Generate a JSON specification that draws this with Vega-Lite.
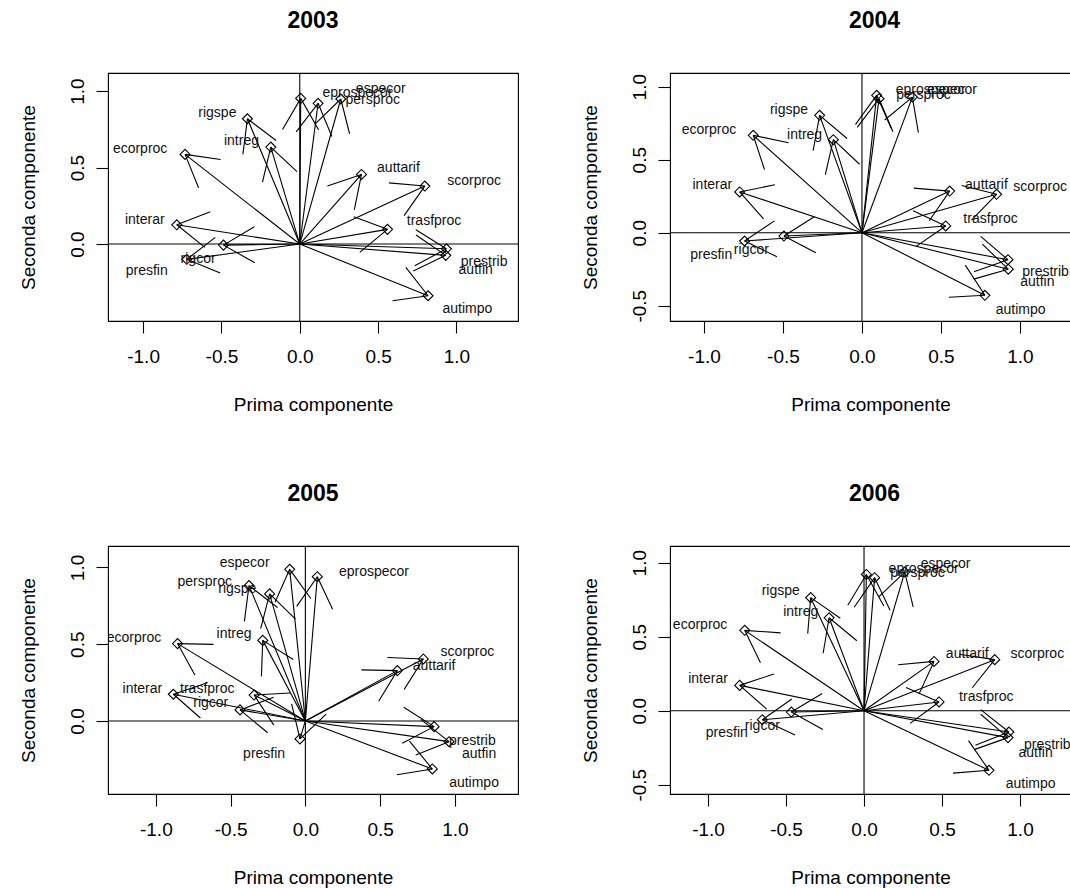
{
  "$schema": "https://vega.github.io/schema/vega-lite/v6.json",
  "padding": {"left": 18, "top": 9, "right": 0, "bottom": 0},
  "background": "white",
  "data": {"values": [
    {"year":2003,"v":"eprospecor","x":0.006,"y":0.952,"b1x":0.12,"b1y":0.747,"b2x":-0.11,"b2y":0.749,"lx":0.368,"ly":0.987},
    {"year":2003,"v":"persproc","x":0.117,"y":0.92,"b1x":0.205,"b1y":0.703,"b2x":-0.023,"b2y":0.733,"lx":0.466,"ly":0.943},
    {"year":2003,"v":"especor","x":0.262,"y":0.948,"b1x":0.318,"b1y":0.72,"b2x":0.097,"b2y":0.784,"lx":0.517,"ly":1.013},
    {"year":2003,"v":"rigspe","x":-0.334,"y":0.819,"b1x":-0.151,"b1y":0.677,"b2x":-0.363,"b2y":0.586,"lx":-0.526,"ly":0.856},
    {"year":2003,"v":"intreg","x":-0.185,"y":0.634,"b1x":-0.018,"b1y":0.473,"b2x":-0.238,"b2y":0.405,"lx":-0.372,"ly":0.673},
    {"year":2003,"v":"ecorproc","x":-0.732,"y":0.586,"b1x":-0.505,"b1y":0.553,"b2x":-0.646,"b2y":0.368,"lx":-1.019,"ly":0.623},
    {"year":2003,"v":"interar","x":-0.785,"y":0.126,"b1x":-0.571,"b1y":0.211,"b2x":-0.606,"b2y":-0.022,"lx":-0.989,"ly":0.159},
    {"year":2003,"v":"presfin","x":-0.721,"y":-0.1,"b1x":-0.539,"b1y":0.044,"b2x":-0.508,"b2y":-0.19,"lx":-0.977,"ly":-0.176},
    {"year":2003,"v":"rigcor","x":-0.487,"y":-0.007,"b1x":-0.29,"b1y":0.113,"b2x":-0.287,"b2y":-0.122,"lx":-0.649,"ly":-0.1},
    {"year":2003,"v":"auttarif","x":0.394,"y":0.455,"b1x":0.348,"b1y":0.224,"b2x":0.176,"b2y":0.38,"lx":0.63,"ly":0.499},
    {"year":2003,"v":"scorproc","x":0.798,"y":0.379,"b1x":0.666,"b1y":0.186,"b2x":0.569,"b2y":0.4,"lx":1.113,"ly":0.412},
    {"year":2003,"v":"trasfproc","x":0.56,"y":0.096,"b1x":0.383,"b1y":-0.054,"b2x":0.345,"b2y":0.178,"lx":0.857,"ly":0.15},
    {"year":2003,"v":"prestrib","x":0.936,"y":-0.031,"b1x":0.734,"b1y":-0.142,"b2x":0.741,"b2y":0.093,"lx":1.177,"ly":-0.118},
    {"year":2003,"v":"autfin","x":0.932,"y":-0.074,"b1x":0.725,"b1y":-0.176,"b2x":0.742,"b2y":0.059,"lx":1.123,"ly":-0.168},
    {"year":2003,"v":"autimpo","x":0.819,"y":-0.338,"b1x":0.592,"b1y":-0.371,"b2x":0.677,"b2y":-0.153,"lx":1.07,"ly":-0.423},

    {"year":2004,"v":"ecorproc","x":-0.688,"y":0.667,"b1x":-0.465,"b1y":0.616,"b2x":-0.617,"b2y":0.433,"lx":-0.968,"ly":0.701},
    {"year":2004,"v":"rigspe","x":-0.268,"y":0.804,"b1x":-0.094,"b1y":0.645,"b2x":-0.309,"b2y":0.562,"lx":-0.462,"ly":0.838},
    {"year":2004,"v":"intreg","x":-0.181,"y":0.637,"b1x":-0.015,"b1y":0.469,"b2x":-0.232,"b2y":0.397,"lx":-0.363,"ly":0.667},
    {"year":2004,"v":"interar","x":-0.774,"y":0.279,"b1x":-0.551,"b1y":0.328,"b2x":-0.623,"b2y":0.095,"lx":-0.947,"ly":0.324},
    {"year":2004,"v":"presfin","x":-0.743,"y":-0.057,"b1x":-0.554,"b1y":0.081,"b2x":-0.538,"b2y":-0.165,"lx":-0.954,"ly":-0.155},
    {"year":2004,"v":"rigcor","x":-0.494,"y":-0.023,"b1x":-0.302,"b1y":0.109,"b2x":-0.292,"b2y":-0.137,"lx":-0.7,"ly":-0.116},
    {"year":2004,"v":"eprospecor","x":0.093,"y":0.941,"b1x":0.185,"b1y":0.716,"b2x":-0.041,"b2y":0.742,"lx":0.435,"ly":0.975},
    {"year":2004,"v":"persproc","x":0.108,"y":0.918,"b1x":0.196,"b1y":0.691,"b2x":-0.03,"b2y":0.722,"lx":0.39,"ly":0.94},
    {"year":2004,"v":"especor","x":0.319,"y":0.929,"b1x":0.357,"b1y":0.686,"b2x":0.144,"b2y":0.772,"lx":0.57,"ly":0.975},
    {"year":2004,"v":"auttarif","x":0.555,"y":0.285,"b1x":0.426,"b1y":0.082,"b2x":0.328,"b2y":0.305,"lx":0.788,"ly":0.324},
    {"year":2004,"v":"scorproc","x":0.852,"y":0.263,"b1x":0.693,"b1y":0.086,"b2x":0.631,"b2y":0.323,"lx":1.128,"ly":0.313},
    {"year":2004,"v":"trasfproc","x":0.53,"y":0.046,"b1x":0.343,"b1y":-0.094,"b2x":0.324,"b2y":0.151,"lx":0.814,"ly":0.096},
    {"year":2004,"v":"prestrib","x":0.924,"y":-0.185,"b1x":0.709,"b1y":-0.267,"b2x":0.751,"b2y":-0.025,"lx":1.162,"ly":-0.269},
    {"year":2004,"v":"autfin","x":0.926,"y":-0.25,"b1x":0.707,"b1y":-0.318,"b2x":0.762,"b2y":-0.079,"lx":1.11,"ly":-0.338},
    {"year":2004,"v":"autimpo","x":0.778,"y":-0.429,"b1x":0.55,"b1y":-0.442,"b2x":0.654,"b2y":-0.222,"lx":1.004,"ly":-0.532},

    {"year":2005,"v":"especor","x":-0.105,"y":0.988,"b1x":0.036,"b1y":0.798,"b2x":-0.203,"b2y":0.774,"lx":-0.406,"ly":1.027},
    {"year":2005,"v":"eprospecor","x":0.08,"y":0.94,"b1x":0.182,"b1y":0.728,"b2x":-0.058,"b2y":0.747,"lx":0.459,"ly":0.973},
    {"year":2005,"v":"persproc","x":-0.377,"y":0.882,"b1x":-0.186,"b1y":0.739,"b2x":-0.408,"b2y":0.649,"lx":-0.673,"ly":0.908},
    {"year":2005,"v":"rigspe","x":-0.239,"y":0.828,"b1x":-0.066,"b1y":0.664,"b2x":-0.299,"b2y":0.601,"lx":-0.455,"ly":0.858},
    {"year":2005,"v":"intreg","x":-0.285,"y":0.525,"b1x":-0.081,"b1y":0.401,"b2x":-0.294,"b2y":0.29,"lx":-0.477,"ly":0.565},
    {"year":2005,"v":"ecorproc","x":-0.855,"y":0.504,"b1x":-0.614,"b1y":0.499,"b2x":-0.739,"b2y":0.299,"lx":-1.146,"ly":0.543},
    {"year":2005,"v":"interar","x":-0.883,"y":0.174,"b1x":-0.655,"b1y":0.249,"b2x":-0.702,"b2y":0.019,"lx":-1.09,"ly":0.206},
    {"year":2005,"v":"trasfproc","x":-0.343,"y":0.169,"b1x":-0.103,"b1y":0.182,"b2x":-0.211,"b2y":-0.027,"lx":-0.656,"ly":0.208},
    {"year":2005,"v":"rigcor","x":-0.437,"y":0.072,"b1x":-0.212,"b1y":0.154,"b2x":-0.252,"b2y":-0.077,"lx":-0.633,"ly":0.115},
    {"year":2005,"v":"presfin","x":-0.036,"y":-0.117,"b1x":-0.092,"b1y":0.111,"b2x":0.139,"b2y":0.044,"lx":-0.276,"ly":-0.215},
    {"year":2005,"v":"auttarif","x":0.615,"y":0.328,"b1x":0.49,"b1y":0.128,"b2x":0.374,"b2y":0.333,"lx":0.861,"ly":0.36},
    {"year":2005,"v":"scorproc","x":0.789,"y":0.404,"b1x":0.661,"b1y":0.206,"b2x":0.548,"b2y":0.413,"lx":1.084,"ly":0.452},
    {"year":2005,"v":"prestrib","x":0.961,"y":-0.135,"b1x":0.738,"b1y":-0.222,"b2x":0.772,"b2y":0.01,"lx":1.117,"ly":-0.13},
    {"year":2005,"v":"autfin","x":0.861,"y":-0.037,"b1x":0.648,"b1y":-0.145,"b2x":0.658,"b2y":0.089,"lx":1.162,"ly":-0.215},
    {"year":2005,"v":"autimpo","x":0.849,"y":-0.313,"b1x":0.612,"b1y":-0.351,"b2x":0.696,"b2y":-0.131,"lx":1.128,"ly":-0.402},

    {"year":2006,"v":"eprospecor","x":0.015,"y":0.921,"b1x":0.127,"b1y":0.708,"b2x":-0.104,"b2y":0.712,"lx":0.382,"ly":0.955},
    {"year":2006,"v":"persproc","x":0.068,"y":0.899,"b1x":0.167,"b1y":0.679,"b2x":-0.063,"b2y":0.699,"lx":0.343,"ly":0.93},
    {"year":2006,"v":"especor","x":0.261,"y":0.937,"b1x":0.315,"b1y":0.701,"b2x":0.094,"b2y":0.769,"lx":0.523,"ly":0.99},
    {"year":2006,"v":"rigspe","x":-0.342,"y":0.764,"b1x":-0.152,"b1y":0.625,"b2x":-0.361,"b2y":0.521,"lx":-0.534,"ly":0.809},
    {"year":2006,"v":"intreg","x":-0.224,"y":0.628,"b1x":-0.046,"b1y":0.473,"b2x":-0.262,"b2y":0.388,"lx":-0.406,"ly":0.667},
    {"year":2006,"v":"ecorproc","x":-0.765,"y":0.543,"b1x":-0.535,"b1y":0.526,"b2x":-0.664,"b2y":0.324,"lx":-1.051,"ly":0.581},
    {"year":2006,"v":"interar","x":-0.797,"y":0.171,"b1x":-0.578,"b1y":0.248,"b2x":-0.624,"b2y":0.01,"lx":-1.0,"ly":0.216},
    {"year":2006,"v":"presfin","x":-0.652,"y":-0.061,"b1x":-0.463,"b1y":0.079,"b2x":-0.442,"b2y":-0.164,"lx":-0.88,"ly":-0.149},
    {"year":2006,"v":"rigcor","x":-0.466,"y":-0.009,"b1x":-0.268,"b1y":0.116,"b2x":-0.264,"b2y":-0.127,"lx":-0.652,"ly":-0.106},
    {"year":2006,"v":"auttarif","x":0.449,"y":0.333,"b1x":0.352,"b1y":0.112,"b2x":0.219,"b2y":0.311,"lx":0.662,"ly":0.381},
    {"year":2006,"v":"scorproc","x":0.838,"y":0.345,"b1x":0.694,"b1y":0.155,"b2x":0.61,"b2y":0.381,"lx":1.111,"ly":0.381},
    {"year":2006,"v":"trasfproc","x":0.481,"y":0.059,"b1x":0.296,"b1y":-0.086,"b2x":0.269,"b2y":0.156,"lx":0.784,"ly":0.092},
    {"year":2006,"v":"prestrib","x":0.929,"y":-0.144,"b1x":0.714,"b1y":-0.233,"b2x":0.748,"b2y":0.007,"lx":1.175,"ly":-0.234},
    {"year":2006,"v":"autfin","x":0.923,"y":-0.182,"b1x":0.706,"b1y":-0.263,"b2x":0.748,"b2y":-0.024,"lx":1.1,"ly":-0.284},
    {"year":2006,"v":"autimpo","x":0.801,"y":-0.403,"b1x":0.571,"b1y":-0.422,"b2x":0.67,"b2y":-0.202,"lx":1.068,"ly":-0.493}
  ]},
  "columns": 2,
  "spacing": {"row": 225, "column": 152},
  "bounds": "flush",
  "concat": [
    {
      "width": 410, "height": 248,
      "title": {"text": "2003"},
      "layer": [
        {"data": {"values": [{"z": 0}]}, "mark": {"type": "rule", "color": "#000", "strokeWidth": 1.1},
         "encoding": {"x": {"datum": 0, "type": "quantitative", "scale": {"domain": [-1.224, 1.393], "nice": false, "zero": false}, "axis": {"title": "Prima componente", "values": [-1, -0.5, 0, 0.5, 1]}}}},
        {"data": {"values": [{"z": 0}]}, "mark": {"type": "rule", "color": "#000", "strokeWidth": 1.1},
         "encoding": {"y": {"datum": 0, "type": "quantitative", "scale": {"domain": [-0.503, 1.118], "nice": false, "zero": false}, "axis": {"title": "Seconda componente", "values": [0, 0.5, 1]}}}},
        {"transform": [{"filter": "datum.year == 2003"}], "mark": {"type": "rule", "color": "#000", "strokeWidth": 1.1, "clip": true},
         "encoding": {"x": {"field": "x", "type": "quantitative"}, "y": {"field": "y", "type": "quantitative"}, "x2": {"datum": 0}, "y2": {"datum": 0}}},
        {"transform": [{"filter": "datum.year == 2003"}], "mark": {"type": "rule", "color": "#000", "strokeWidth": 1.1, "clip": true},
         "encoding": {"x": {"field": "x", "type": "quantitative"}, "y": {"field": "y", "type": "quantitative"}, "x2": {"field": "b1x"}, "y2": {"field": "b1y"}}},
        {"transform": [{"filter": "datum.year == 2003"}], "mark": {"type": "rule", "color": "#000", "strokeWidth": 1.1, "clip": true},
         "encoding": {"x": {"field": "x", "type": "quantitative"}, "y": {"field": "y", "type": "quantitative"}, "x2": {"field": "b2x"}, "y2": {"field": "b2y"}}},
        {"transform": [{"filter": "datum.year == 2003"}], "mark": {"type": "point", "shape": "diamond", "filled": false, "color": "#000", "strokeWidth": 1.1, "size": 100, "opacity": 1, "clip": true},
         "encoding": {"x": {"field": "x", "type": "quantitative"}, "y": {"field": "y", "type": "quantitative"}}},
        {"transform": [{"filter": "datum.year == 2003"}], "mark": {"type": "text", "fontSize": 14, "color": "#111", "align": "center", "baseline": "middle", "clip": true},
         "encoding": {"x": {"field": "lx", "type": "quantitative"}, "y": {"field": "ly", "type": "quantitative"}, "text": {"field": "v"}}}
      ]
    },
    {
      "width": 401, "height": 248,
      "title": {"text": "2004", "dx": 4},
      "layer": [
        {"data": {"values": [{"z": 0}]}, "mark": {"type": "rule", "color": "#000", "strokeWidth": 1.1},
         "encoding": {"x": {"datum": 0, "type": "quantitative", "scale": {"domain": [-1.215, 1.323], "nice": false, "zero": false}, "axis": {"title": "Prima componente", "values": [-1, -0.5, 0, 0.5, 1]}}}},
        {"data": {"values": [{"z": 0}]}, "mark": {"type": "rule", "color": "#000", "strokeWidth": 1.1},
         "encoding": {"y": {"datum": 0, "type": "quantitative", "scale": {"domain": [-0.605, 1.094], "nice": false, "zero": false}, "axis": {"title": "Seconda componente", "values": [-0.5, 0, 0.5, 1]}}}},
        {"transform": [{"filter": "datum.year == 2004"}], "mark": {"type": "rule", "color": "#000", "strokeWidth": 1.1, "clip": true},
         "encoding": {"x": {"field": "x", "type": "quantitative"}, "y": {"field": "y", "type": "quantitative"}, "x2": {"datum": 0}, "y2": {"datum": 0}}},
        {"transform": [{"filter": "datum.year == 2004"}], "mark": {"type": "rule", "color": "#000", "strokeWidth": 1.1, "clip": true},
         "encoding": {"x": {"field": "x", "type": "quantitative"}, "y": {"field": "y", "type": "quantitative"}, "x2": {"field": "b1x"}, "y2": {"field": "b1y"}}},
        {"transform": [{"filter": "datum.year == 2004"}], "mark": {"type": "rule", "color": "#000", "strokeWidth": 1.1, "clip": true},
         "encoding": {"x": {"field": "x", "type": "quantitative"}, "y": {"field": "y", "type": "quantitative"}, "x2": {"field": "b2x"}, "y2": {"field": "b2y"}}},
        {"transform": [{"filter": "datum.year == 2004"}], "mark": {"type": "point", "shape": "diamond", "filled": false, "color": "#000", "strokeWidth": 1.1, "size": 100, "opacity": 1, "clip": true},
         "encoding": {"x": {"field": "x", "type": "quantitative"}, "y": {"field": "y", "type": "quantitative"}}},
        {"transform": [{"filter": "datum.year == 2004"}], "mark": {"type": "text", "fontSize": 14, "color": "#111", "align": "center", "baseline": "middle", "clip": true},
         "encoding": {"x": {"field": "lx", "type": "quantitative"}, "y": {"field": "ly", "type": "quantitative"}, "text": {"field": "v"}}}
      ]
    },
    {
      "width": 410, "height": 248,
      "title": {"text": "2005"},
      "layer": [
        {"data": {"values": [{"z": 0}]}, "mark": {"type": "rule", "color": "#000", "strokeWidth": 1.1},
         "encoding": {"x": {"datum": 0, "type": "quantitative", "scale": {"domain": [-1.32, 1.422], "nice": false, "zero": false}, "axis": {"title": "Prima componente", "values": [-1, -0.5, 0, 0.5, 1]}}}},
        {"data": {"values": [{"z": 0}]}, "mark": {"type": "rule", "color": "#000", "strokeWidth": 1.1},
         "encoding": {"y": {"datum": 0, "type": "quantitative", "scale": {"domain": [-0.476, 1.14], "nice": false, "zero": false}, "axis": {"title": "Seconda componente", "values": [0, 0.5, 1]}}}},
        {"transform": [{"filter": "datum.year == 2005"}], "mark": {"type": "rule", "color": "#000", "strokeWidth": 1.1, "clip": true},
         "encoding": {"x": {"field": "x", "type": "quantitative"}, "y": {"field": "y", "type": "quantitative"}, "x2": {"datum": 0}, "y2": {"datum": 0}}},
        {"transform": [{"filter": "datum.year == 2005"}], "mark": {"type": "rule", "color": "#000", "strokeWidth": 1.1, "clip": true},
         "encoding": {"x": {"field": "x", "type": "quantitative"}, "y": {"field": "y", "type": "quantitative"}, "x2": {"field": "b1x"}, "y2": {"field": "b1y"}}},
        {"transform": [{"filter": "datum.year == 2005"}], "mark": {"type": "rule", "color": "#000", "strokeWidth": 1.1, "clip": true},
         "encoding": {"x": {"field": "x", "type": "quantitative"}, "y": {"field": "y", "type": "quantitative"}, "x2": {"field": "b2x"}, "y2": {"field": "b2y"}}},
        {"transform": [{"filter": "datum.year == 2005"}], "mark": {"type": "point", "shape": "diamond", "filled": false, "color": "#000", "strokeWidth": 1.1, "size": 100, "opacity": 1, "clip": true},
         "encoding": {"x": {"field": "x", "type": "quantitative"}, "y": {"field": "y", "type": "quantitative"}}},
        {"transform": [{"filter": "datum.year == 2005"}], "mark": {"type": "text", "fontSize": 14, "color": "#111", "align": "center", "baseline": "middle", "clip": true},
         "encoding": {"x": {"field": "lx", "type": "quantitative"}, "y": {"field": "ly", "type": "quantitative"}, "text": {"field": "v"}}}
      ]
    },
    {
      "width": 401, "height": 248,
      "title": {"text": "2006", "dx": 4},
      "layer": [
        {"data": {"values": [{"z": 0}]}, "mark": {"type": "rule", "color": "#000", "strokeWidth": 1.1},
         "encoding": {"x": {"datum": 0, "type": "quantitative", "scale": {"domain": [-1.244, 1.327], "nice": false, "zero": false}, "axis": {"title": "Prima componente", "values": [-1, -0.5, 0, 0.5, 1]}}}},
        {"data": {"values": [{"z": 0}]}, "mark": {"type": "rule", "color": "#000", "strokeWidth": 1.1},
         "encoding": {"y": {"datum": 0, "type": "quantitative", "scale": {"domain": [-0.563, 1.113], "nice": false, "zero": false}, "axis": {"title": "Seconda componente", "values": [-0.5, 0, 0.5, 1]}}}},
        {"transform": [{"filter": "datum.year == 2006"}], "mark": {"type": "rule", "color": "#000", "strokeWidth": 1.1, "clip": true},
         "encoding": {"x": {"field": "x", "type": "quantitative"}, "y": {"field": "y", "type": "quantitative"}, "x2": {"datum": 0}, "y2": {"datum": 0}}},
        {"transform": [{"filter": "datum.year == 2006"}], "mark": {"type": "rule", "color": "#000", "strokeWidth": 1.1, "clip": true},
         "encoding": {"x": {"field": "x", "type": "quantitative"}, "y": {"field": "y", "type": "quantitative"}, "x2": {"field": "b1x"}, "y2": {"field": "b1y"}}},
        {"transform": [{"filter": "datum.year == 2006"}], "mark": {"type": "rule", "color": "#000", "strokeWidth": 1.1, "clip": true},
         "encoding": {"x": {"field": "x", "type": "quantitative"}, "y": {"field": "y", "type": "quantitative"}, "x2": {"field": "b2x"}, "y2": {"field": "b2y"}}},
        {"transform": [{"filter": "datum.year == 2006"}], "mark": {"type": "point", "shape": "diamond", "filled": false, "color": "#000", "strokeWidth": 1.1, "size": 100, "opacity": 1, "clip": true},
         "encoding": {"x": {"field": "x", "type": "quantitative"}, "y": {"field": "y", "type": "quantitative"}}},
        {"transform": [{"filter": "datum.year == 2006"}], "mark": {"type": "text", "fontSize": 14, "color": "#111", "align": "center", "baseline": "middle", "clip": true},
         "encoding": {"x": {"field": "lx", "type": "quantitative"}, "y": {"field": "ly", "type": "quantitative"}, "text": {"field": "v"}}}
      ]
    }
  ],
  "config": {
    "font": "Liberation Sans",
    "view": {"stroke": "#000", "strokeWidth": 1.1},
    "axis": {
      "grid": false, "domain": false,
      "tickColor": "#000", "tickWidth": 1.1, "tickSize": 12,
      "labelColor": "#000", "labelFont": "Liberation Sans", "labelFontSize": 19,
      "titleColor": "#000", "titleFont": "Liberation Sans", "titleFontSize": 19, "titleFontWeight": "normal",
      "labelFlush": false, "labelOverlap": false,
      "labelExpr": "replace(format(datum.value, '.1f'), '\u2212', '-')"
    },
    "axisX": {"labelPadding": 14, "minExtent": 44, "maxExtent": 44, "titlePadding": 30},
    "axisY": {"labelAngle": -90, "labelAlign": "center", "labelBaseline": "bottom", "labelPadding": 9, "minExtent": 40, "maxExtent": 40, "titlePadding": 30},
    "title": {"font": "Liberation Sans", "fontSize": 23, "fontWeight": "bold", "color": "#000", "offset": 39, "baseline": "alphabetic", "frame": "group", "anchor": "middle"}
  }
}
